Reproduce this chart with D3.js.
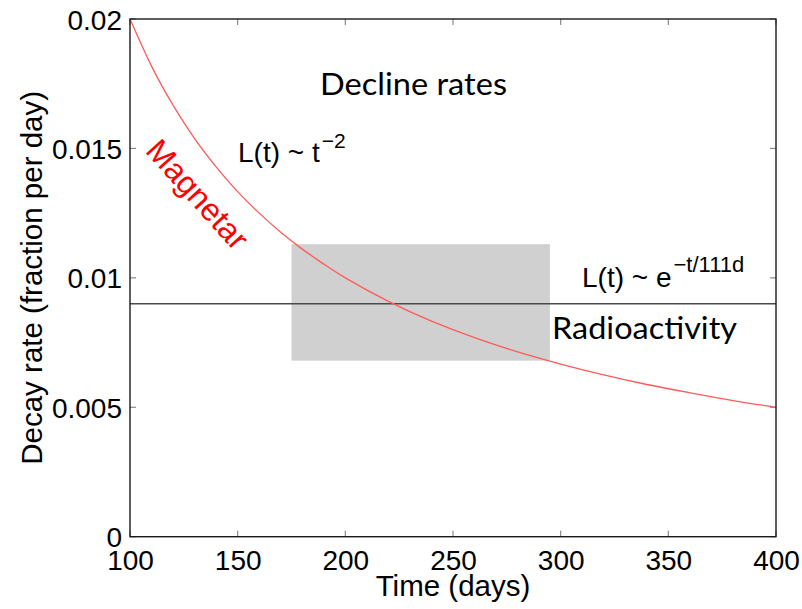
<!DOCTYPE html>
<html>
<head>
<meta charset="utf-8">
<script src="https://cdn.jsdelivr.net/npm/d3@7"></script>
<style>
  html, body { margin: 0; padding: 0; background: #fff; }
  svg { display: block; }
</style>
</head>
<body>
<svg id="chart" width="802" height="609"></svg>
<script>
// ---- data ----
const magnetarTime = [100, 110, 120, 130, 140, 150, 160, 170, 180, 190, 200, 220, 240, 260, 280, 300, 320, 340, 360, 380, 400];
const magnetarRate = [0.02000, 0.01818, 0.01667, 0.01538, 0.01429, 0.01333, 0.01250, 0.01176, 0.01111, 0.01053, 0.01000, 0.00909, 0.00833, 0.00769, 0.00714, 0.00667, 0.00625, 0.00588, 0.00556, 0.00526, 0.00500];
const radioRate = 0.009;                 // constant decline for radioactivity (1/111 d)
const boxTime = [175, 295];              // grey observation window (days)
const boxRate = [0.0068, 0.0113];        // grey observation window (rate)
const xTicks = [100, 150, 200, 250, 300, 350, 400];
const yTicks = [0, 0.005, 0.01, 0.015, 0.02];
const yTickLabels = ["0", "0.005", "0.01", "0.015", "0.02"];
const xDomain = [100, 400];
const yDomain = [0, 0.02];

// ---- layout ----
const svg = d3.select("#chart");
const L = 130, T = 19, R = 776, B = 536.7;
const helv = "'Liberation Sans', Arial, Helvetica, sans-serif";
const cal = "Lato, 'Open Sans', sans-serif";

const x = d3.scaleLinear().domain(xDomain).range([L, R]);
const y = d3.scaleLinear().domain(yDomain).range([B, T]);

// grey box
svg.append("rect")
  .attr("x", x(boxTime[0])).attr("y", y(boxRate[1]))
  .attr("width", x(boxTime[1]) - x(boxTime[0]))
  .attr("height", y(boxRate[0]) - y(boxRate[1]))
  .attr("fill", "#d0d0d0");

// radioactivity line
svg.append("line")
  .attr("x1", x(xDomain[0])).attr("x2", x(xDomain[1]))
  .attr("y1", y(radioRate)).attr("y2", y(radioRate))
  .attr("stroke", "#4a4a4a").attr("stroke-width", 1.4);

// magnetar curve
const pts = magnetarTime.map((t, i) => [t, magnetarRate[i]]);
svg.append("path")
  .datum(pts)
  .attr("fill", "none")
  .attr("stroke", "#ff5a5a")
  .attr("stroke-width", 1.3)
  .attr("d", d3.line().x(d => x(d[0])).y(d => y(d[1])).curve(d3.curveNatural));

// ticks on all four sides (inside)
const tickLen = 6;
const tickG = svg.append("g").attr("stroke", "#8a8a8a").attr("stroke-width", 1.2);
xTicks.forEach(v => {
  tickG.append("line").attr("x1", x(v)).attr("x2", x(v)).attr("y1", B).attr("y2", B - tickLen);
  tickG.append("line").attr("x1", x(v)).attr("x2", x(v)).attr("y1", T).attr("y2", T + tickLen);
});
yTicks.forEach(v => {
  tickG.append("line").attr("x1", L).attr("x2", L + tickLen).attr("y1", y(v)).attr("y2", y(v));
  tickG.append("line").attr("x1", R).attr("x2", R - tickLen).attr("y1", y(v)).attr("y2", y(v));
});

// frame
svg.append("rect")
  .attr("x", L).attr("y", T).attr("width", R - L).attr("height", B - T)
  .attr("fill", "none").attr("stroke", "#1a1a1a").attr("stroke-width", 1.4);

// tick labels
const xAxis = d3.axisBottom(x).tickValues(xTicks).tickSize(0).tickPadding(0).tickFormat(d3.format("d"));
const gx = svg.append("g").attr("transform", `translate(0,${B})`).call(xAxis);
gx.select(".domain").remove();
gx.selectAll("text").attr("font-family", helv).attr("font-size", 28).attr("fill", "#000")
  .attr("y", 33).attr("dy", 0);

const yAxis = d3.axisLeft(y).tickValues(yTicks).tickSize(0).tickPadding(8)
  .tickFormat((d, i) => yTickLabels[i]);
const gy = svg.append("g").attr("transform", `translate(${L},0)`).call(yAxis);
gy.select(".domain").remove();
gy.selectAll("text").attr("font-family", helv).attr("font-size", 28).attr("fill", "#000")
  .attr("dy", "0.36em");

// axis titles
svg.append("text").attr("x", (L + R) / 2).attr("y", 596)
  .attr("text-anchor", "middle").attr("font-family", helv).attr("font-size", 29.5)
  .text("Time (days)");
svg.append("text").attr("transform", `translate(42,${(T + B) / 2}) rotate(-90)`)
  .attr("text-anchor", "middle").attr("font-family", helv).attr("font-size", 29.5)
  .text("Decay rate (fraction per day)");

// annotations
svg.append("text").attr("x", 320).attr("y", 95)
  .attr("font-family", cal).attr("font-size", 31).attr("fill", "#000")
  .attr("textLength", 187).attr("lengthAdjust", "spacingAndGlyphs")
  .text("Decline rates");
svg.append("text").attr("x", 552).attr("y", 339)
  .attr("font-family", cal).attr("font-size", 31).attr("fill", "#000")
  .attr("textLength", 185).attr("lengthAdjust", "spacingAndGlyphs")
  .text("Radioactivity");

const t1 = svg.append("text").attr("x", 238).attr("y", 162)
  .attr("font-family", helv).attr("font-size", 28).attr("fill", "#000");
t1.append("tspan").text("L(t) ~ t");
t1.append("tspan").attr("font-size", 21).attr("dy", -14).attr("dx", 2).text("\u22122");

const t2 = svg.append("text").attr("x", 582).attr("y", 287)
  .attr("font-family", helv).attr("font-size", 28).attr("fill", "#000");
t2.append("tspan").text("L(t) ~ e");
t2.append("tspan").attr("font-size", 22).attr("dy", -15).attr("dx", 2).text("\u2212t/111d");

svg.append("text")
  .attr("transform", "translate(198,194) rotate(48)")
  .attr("text-anchor", "middle").attr("dy", "0.36em")
  .attr("font-family", helv).attr("font-size", 32).attr("fill", "#ff0000")
  .text("Magnetar");
</script>
</body>
</html>
